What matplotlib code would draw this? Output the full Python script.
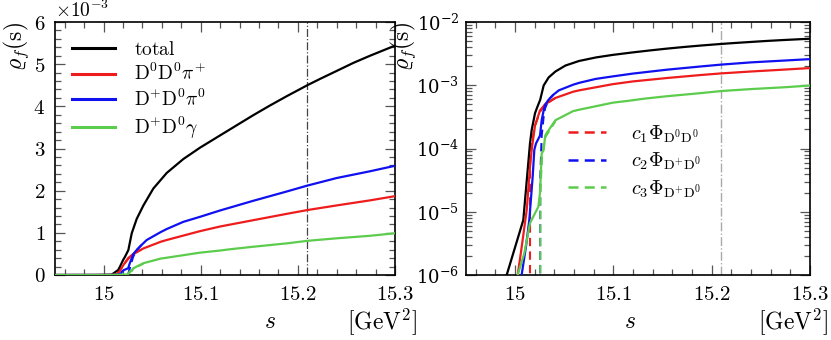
import numpy as np
import matplotlib
matplotlib.use("Agg")
import matplotlib.pyplot as plt
from matplotlib.ticker import MultipleLocator, FuncFormatter, LogLocator, NullFormatter

plt.rcParams['mathtext.fontset'] = 'cm'
plt.rcParams['font.family'] = 'serif'
plt.rcParams['font.serif'] = ['DejaVu Serif']

# channel spectral functions (s in GeV^2)
s_tot = [14.95, 14.9914, 15.0083, 15.0151, 15.0168, 15.0202, 15.022, 15.0255, 15.029,
         15.0341, 15.041, 15.0512, 15.065, 15.0821, 15.0993, 15.1199, 15.137, 15.1541,
         15.1713, 15.1885, 15.2097, 15.2228, 15.24, 15.2571, 15.2743, 15.3]
rho_tot = [8e-9, 1e-6, 7.4e-6, 1.2e-4, 1.95e-4, 3.6e-4, 4.3e-4, 5.9e-4, 9.9e-4,
           1.33e-3, 1.65e-3, 2.05e-3, 2.42e-3, 2.75e-3, 3.02e-3, 3.31e-3, 3.55e-3, 3.79e-3,
           4.02e-3, 4.24e-3, 4.50e-3, 4.65e-3, 4.84e-3, 5.03e-3, 5.20e-3, 5.44e-3]

s_dd_pi = [14.95, 15.0026, 15.0067, 15.0118, 15.0151, 15.0168, 15.0202, 15.0253, 15.0306,
           15.0355, 15.041, 15.059, 15.065, 15.0993, 15.1199, 15.1541, 15.1885, 15.2097,
           15.24, 15.2743, 15.3]
rho_dd_pi = [1e-9, 1e-6, 2.8e-6, 1.07e-5, 5.1e-5, 9.5e-5, 2.3e-4, 4.0e-4, 5.0e-4,
             5.6e-4, 6.3e-4, 7.9e-4, 8.3e-4, 1.04e-3, 1.15e-3, 1.30e-3, 1.45e-3, 1.54e-3,
             1.65e-3, 1.77e-3, 1.87e-3]

s_dpd_pi = [14.95, 15.0066, 15.011, 15.0144, 15.0178, 15.0195, 15.0212, 15.0253, 15.027,
            15.029, 15.0304, 15.034, 15.039, 15.0444, 15.059, 15.065, 15.082, 15.0993,
            15.1199, 15.1541, 15.1885, 15.2097, 15.24, 15.2743, 15.3]
rho_dpd_pi = [1e-9, 1e-6, 2.8e-6, 7.4e-6, 3.5e-5, 9.5e-5, 1.2e-4, 1.6e-4, 2.8e-4,
              4.0e-4, 4.9e-4, 5.9e-4, 7.1e-4, 8.3e-4, 1.02e-3, 1.09e-3, 1.26e-3, 1.38e-3,
              1.53e-3, 1.76e-3, 1.98e-3, 2.12e-3, 2.30e-3, 2.46e-3, 2.59e-3]

s_dpd_gam = [14.95, 15.0026, 15.0093, 15.0151, 15.0236, 15.0253, 15.027, 15.029, 15.0306,
             15.032, 15.041, 15.059, 15.065, 15.0993, 15.1199, 15.13, 15.1541, 15.1885,
             15.2097, 15.24, 15.2743, 15.3]
rho_dpd_gam = [1e-9, 1e-6, 2.2e-6, 6.6e-6, 1.2e-5, 2.0e-5, 8.3e-5, 9.5e-5, 1.6e-4,
               1.75e-4, 2.8e-4, 3.9e-4, 4.1e-4, 5.3e-4, 5.8e-4, 6.1e-4, 6.7e-4, 7.5e-4,
               8.1e-4, 8.7e-4, 9.3e-4, 9.9e-4]

# c_i * phase space (only the part near threshold is visible; beyond it lies under the solid lines)
s_c1 = [15.015, 15.0152, 15.0168, 15.0202, 15.0253, 15.0306, 15.041]
rho_c1 = [1e-8, 6e-5, 1.2e-4, 2.3e-4, 3.8e-4, 5.0e-4, 6.3e-4]
s_c2 = [15.0253, 15.0255, 15.027, 15.029, 15.0304, 15.034, 15.039]
rho_c2 = [1e-8, 3e-5, 1.6e-4, 3.2e-4, 4.3e-4, 5.9e-4, 7.1e-4]
s_c3 = [15.0253, 15.0256, 15.0275, 15.0306, 15.041]
rho_c3 = [1e-8, 2e-5, 8e-5, 1.5e-4, 2.7e-4]

s_mark = 15.209

RED = '#ee1c1c'
BLUE = '#1010f0'
GREEN = '#5ccc4c'

fig = plt.figure(figsize=(8.31, 3.40), dpi=100)
ax1 = fig.add_axes([55/831, 65/340, 340/831, 253/340])
ax2 = fig.add_axes([466/831, 65/340, 344/831, 253/340])


def num_fmt(x, pos):
    txt = ('%.2f' % x).rstrip('0').rstrip('.')
    return '$%s$' % txt


for ax in (ax1, ax2):
    ax.plot(s_c1, rho_c1, color=RED, ls=(0, (4, 2.5)), lw=1.5, zorder=2)
    ax.plot(s_c2, rho_c2, color=BLUE, ls=(0, (4, 2.5)), lw=1.5, zorder=2)
    ax.plot(s_c3, rho_c3, color=GREEN, ls=(0, (4, 2.5)), lw=1.5, zorder=2)
    ax.plot(s_tot, rho_tot, color='black', lw=1.6, zorder=3)
    ax.plot(s_dd_pi, rho_dd_pi, color=RED, lw=1.6, zorder=3)
    ax.plot(s_dpd_pi, rho_dpd_pi, color=BLUE, lw=1.6, zorder=3)
    ax.plot(s_dpd_gam, rho_dpd_gam, color=GREEN, lw=1.6, zorder=4)
    ax.set_xlim(14.95, 15.3)
    ax.xaxis.set_major_locator(MultipleLocator(0.1))
    ax.xaxis.set_minor_locator(MultipleLocator(0.02))
    ax.xaxis.set_major_formatter(FuncFormatter(num_fmt))
    ax.tick_params(which='both', direction='in', top=True, right=True,
                   labelsize=15, width=0.9, color='#555555')
    ax.tick_params(which='major', length=7, pad=7)
    ax.tick_params(which='minor', length=4)
    for sp in ax.spines.values():
        sp.set_linewidth(1.2)

ax1.axvline(s_mark, color='#444444', lw=0.9, ls='-.', zorder=1)
ax2.axvline(s_mark, color='#aaaaaa', lw=1.0, ls='-.', zorder=1)

# left: linear
ax1.set_ylim(0, 6e-3)
ax1.yaxis.set_major_locator(MultipleLocator(1e-3))
ax1.yaxis.set_minor_locator(MultipleLocator(2e-4))
ax1.yaxis.set_major_formatter(FuncFormatter(lambda y, p: '$%d$' % round(y * 1e3)))
ax1.text(0.0, 1.005, r'$\times 10^{-3}$', transform=ax1.transAxes, fontsize=14,
         ha='left', va='bottom')
ax1.set_ylabel(r'$\varrho_f(\mathrm{s})$', fontsize=17, loc='top')
ax1.yaxis.set_label_coords(-0.07, 1.0)

h = [ax1.plot([], [], color=c, lw=2.2)[0] for c in ['black', RED, BLUE, GREEN]]
ax1.legend(h, [r'$\mathrm{total}$', r'$\mathrm{D}^{0}\mathrm{D}^{0}\pi^{+}$',
               r'$\mathrm{D}^{+}\mathrm{D}^{0}\pi^{0}$', r'$\mathrm{D}^{+}\mathrm{D}^{0}\gamma$'],
           loc='upper left', frameon=False, fontsize=14, handlelength=2.2,
           handletextpad=1.0, labelspacing=0.22, borderaxespad=0, borderpad=0,
           bbox_to_anchor=(0.05, 0.925))

# right: log
ax2.set_yscale('log')
ax2.set_ylim(1e-6, 1e-2)
ax2.yaxis.set_major_locator(LogLocator(base=10, numticks=10))
ax2.yaxis.set_minor_locator(LogLocator(base=10, subs=np.arange(2, 10), numticks=10))
ax2.yaxis.set_minor_formatter(NullFormatter())
ax2.tick_params(axis='y', labelsize=13, pad=5)
ax2.set_ylabel(r'$\varrho_f(\mathrm{s})$', fontsize=17, loc='top')
ax2.yaxis.set_label_coords(-0.14, 1.0)

hd = [ax2.plot([], [], color=c, lw=1.8, ls=(0, (4, 2.5)))[0] for c in [RED, BLUE, GREEN]]
ax2.legend(hd, [r'$c_1\Phi_{\mathrm{D}^{0}\mathrm{D}^{0}}$', r'$c_2\Phi_{\mathrm{D}^{+}\mathrm{D}^{0}}$',
                r'$c_3\Phi_{\mathrm{D}^{+}\mathrm{D}^{0}}$'],
           loc='upper left', frameon=False, fontsize=14.5, handlelength=1.9,
           handletextpad=1.2, labelspacing=0.3, borderaxespad=0, borderpad=0,
           bbox_to_anchor=(0.297, 0.60))

# axis labels placed as in the original
fig.text(270/831, 1 - 322/340, r'$s$', fontsize=17, ha='center', va='center')
fig.text(417/831, 1 - 322/340, r'$[\mathrm{GeV}^2]$', fontsize=17, ha='right', va='center')
fig.text(630/831, 1 - 322/340, r'$s$', fontsize=17, ha='center', va='center')
fig.text(828/831, 1 - 322/340, r'$[\mathrm{GeV}^2]$', fontsize=17, ha='right', va='center')

fig.savefig('out.png', dpi=100)
